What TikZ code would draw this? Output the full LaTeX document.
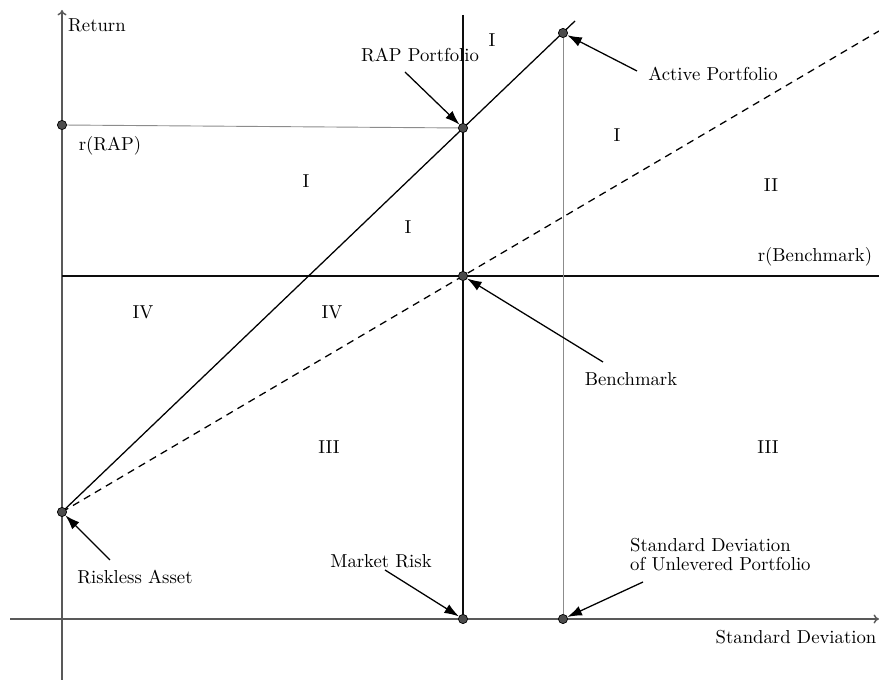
\documentclass[tikz,border=0pt]{standalone}
\usetikzlibrary{arrows.meta}
\begin{document}
\begin{tikzpicture}[x=0.55pt,y=-0.55pt,
  axis/.style={draw=black!65,line width=0.8pt},
  thickln/.style={draw=black!95,line width=1.4pt},
  thinln/.style={draw=black!45,line width=0.5pt},
  pt/.style={circle,fill=black!70,draw=black,line width=0.3pt,inner sep=0pt,minimum size=5pt},
  callout/.style={draw=black,line width=0.7pt,-{Latex[length=8pt,width=5.5pt]}},
  lbl/.style={font=\fontsize{10.3}{12}\selectfont,inner sep=1pt},
  region/.style={font=\fontsize{10.3}{12}\selectfont,inner sep=0pt}]
\useasboundingbox (0,0) rectangle (879,680);
% axes
\coordinate (ybot) at (62,680);
\coordinate (ytop) at (62,10);
\coordinate (xl) at (10,619);
\coordinate (xr) at (879,619);
\draw[axis,-{To[length=3pt,width=5pt]}] (ybot) -- (ytop);
\draw[axis,-{To[length=3pt,width=5pt]}] (xl) -- (xr);
% main points
\node[pt] (rf) at (62,512) {};
\node[pt] (bm) at (463,276) {};
\node[pt] (rap) at (463,128) {};
\node[pt] (act) at (563,33) {};
\node[pt] (rrap) at (62,125) {};
\node[pt] (mr) at (463,619) {};
\node[pt] (sdu) at (563,619) {};
\coordinate (vtop) at (463,15);
\coordinate (hl) at (62,276);
\coordinate (hr) at (879,276);
\coordinate (send) at (575,21);
\coordinate (dend) at (879,31);
% lines
\draw[thickln] (vtop) -- (mr.center);
\draw[thickln] (hl) -- (hr);
\draw[thinln] (rrap.center) -- (rap.center);
\draw[thinln] (act.center) -- (sdu.center);
\draw[black,line width=0.7pt] (rf.center) -- (send);
\draw[black,line width=0.7pt,dashed,dash pattern=on 4pt off 3pt] (rf.center) -- (dend);
% redraw points on top
\foreach \p in {rf,bm,rap,act,rrap,mr,sdu} \node[pt] at (\p) {};
% labels
\node[lbl,anchor=west] (lret) at (66,25) {Return};
\node[lbl] (lrrap) at (110,146) {r(RAP)};
\node[lbl] (lrb) at (815,257) {r(Benchmark)};
\node[lbl] (lsd) at (796,637) {Standard Deviation};
\node[lbl] (lrap) at (420,55) {RAP Portfolio};
\node[lbl] (lact) at (713,74) {Active Portfolio};
\node[lbl] (lbm) at (631,379) {Benchmark};
\node[lbl] (lrf) at (135,577) {Riskless Asset};
\node[lbl] (lmr) at (381,561) {Market Risk};
\node[lbl,anchor=north west,align=left,font=\fontsize{10.3}{10.4}\selectfont] (lsdu) at (628,536) {Standard Deviation\\of Unlevered Portfolio};
% callouts
\coordinate (trap) at (405,72);
\coordinate (tact) at (637,71);
\coordinate (tbm) at (603,362);
\coordinate (trf) at (110,560);
\coordinate (tmr) at (385,570);
\coordinate (tsdu) at (643,582);
\draw[callout] (trap) -- (rap);
\draw[callout] (tact) -- (act);
\draw[callout] (tbm) -- (bm);
\draw[callout] (trf) -- (rf);
\draw[callout] (tmr) -- (mr);
\draw[callout] (tsdu) -- (sdu);
% regions
\node[region] (r1) at (492,40) {I};
\node[region] (r2) at (617,135) {I};
\node[region] (r3) at (306,181) {I};
\node[region] (r4) at (408,227) {I};
\node[region] (r5) at (771,185) {II};
\node[region] (r6) at (143,312) {IV};
\node[region] (r7) at (332,312) {IV};
\node[region] (r8) at (329,447) {III};
\node[region] (r9) at (768,447) {III};
\end{tikzpicture}
\end{document}
